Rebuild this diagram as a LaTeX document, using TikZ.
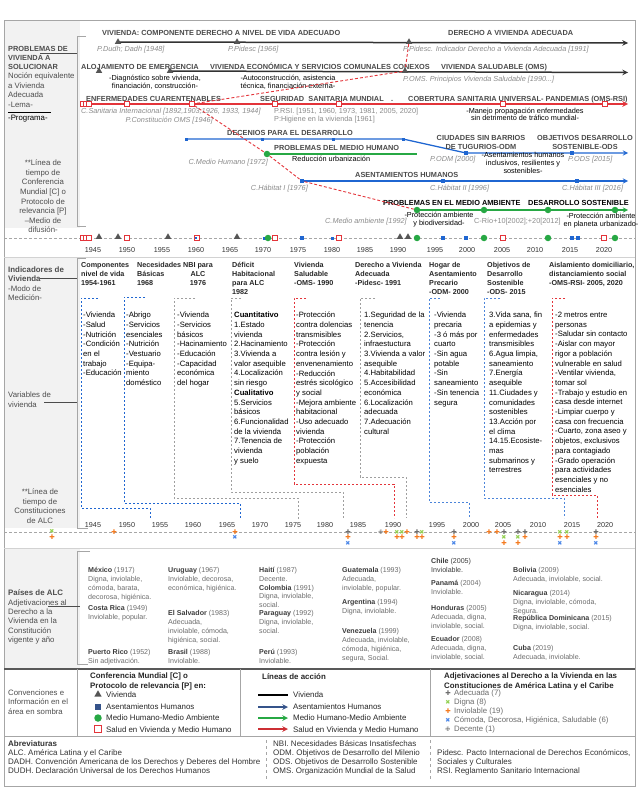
\documentclass[tikz,border=0pt]{standalone}
\usepackage{fontspec}
\setmainfont{Liberation Sans}
\newfontfamily\dejavu{DejaVu Sans}
\usetikzlibrary{shapes.geometric,arrows,positioning,backgrounds}
\definecolor{vivcol}{HTML}{333333}
\definecolor{asecol}{HTML}{1F66D1}
\definecolor{medcol}{HTML}{27A844}
\definecolor{salcol}{HTML}{E3343A}
\definecolor{trigray}{HTML}{555555}
\definecolor{titgray}{HTML}{4A4A4A}
\definecolor{refgray}{HTML}{8A8A8A}
\definecolor{shadegray}{HTML}{F2F2F2}
\definecolor{framegray}{HTML}{A6A6A6}
\definecolor{ctrygray}{HTML}{6B6B6B}
\definecolor{ctryname}{HTML}{3C3C3C}
\definecolor{sidegray}{HTML}{4D4D4D}
\definecolor{legblue}{HTML}{35538A}
\definecolor{adecol}{HTML}{6E6E6E}
\definecolor{dignacol}{HTML}{92D050}
\definecolor{inviocol}{HTML}{F47B20}
\definecolor{comocol}{HTML}{4A86E8}
\newcommand{\pais}[1]{\textcolor{ctryname}{\bfseries #1}}

\begin{document}
\begin{tikzpicture}[x=1pt,y=-1pt,
    tri/.style={regular polygon, regular polygon sides=3, fill=trigray, inner sep=0pt, minimum size=7.5pt},
    bsq/.style={rectangle, fill=asecol, inner sep=0pt, minimum size=4.6pt},
    bdot/.style={rectangle, fill=asecol, inner sep=0pt, minimum size=3pt},
    gcirc/.style={circle, fill=medcol, inner sep=0pt, minimum size=6.5pt},
    rsq/.style={rectangle, draw=salcol, fill=white, line width=0.6pt, inner sep=0pt, minimum size=4.6pt},
    ttl/.style={font=\bfseries\fontsize{7.35}{8}\selectfont, text=titgray, anchor=base west, inner sep=0pt},
    ttlk/.style={ttl, text=black},
    ttlm/.style={font=\bfseries\fontsize{7.35}{8.7}\selectfont, text=titgray, align=center, anchor=north, inner sep=0pt},
    refl/.style={font=\itshape\fontsize{7.3}{8}\selectfont, text=refgray, anchor=base west, inner sep=0pt},
    refr/.style={refl, anchor=base east},
    refn/.style={font=\fontsize{7.3}{8}\selectfont, text=refgray, anchor=base west, inner sep=0pt},
    note/.style={font=\fontsize{7.3}{7.3}\selectfont, align=center, anchor=north, inner sep=0pt},
    notew/.style={note, font=\fontsize{7.3}{8}\selectfont},
    notel/.style={font=\fontsize{7.3}{8}\selectfont, anchor=base west, inner sep=0pt},
    colhead/.style={font=\bfseries\fontsize{7.2}{9}\selectfont, text=black!85, align=left, anchor=north west, inner sep=0pt},
    colbody/.style={font=\fontsize{7.7}{9.7}\selectfont, align=left, anchor=north west, inner sep=0pt},
    sidehead/.style={font=\bfseries\fontsize{7.4}{9}\selectfont, text=sidegray, align=left, anchor=north west, inner sep=0pt},
    sidetxt/.style={font=\fontsize{7.8}{9.6}\selectfont, text=sidegray, align=left, anchor=north west, inner sep=0pt},
    ctry/.style={font=\fontsize{7.1}{8.8}\selectfont, text=ctrygray, align=left, anchor=north west, inner sep=0pt},
    yearlbl/.style={font=\fontsize{7.2}{8}\selectfont, text=black!80, inner sep=0pt},
    legh/.style={font=\bfseries\fontsize{7.9}{10}\selectfont, text=black!85, align=left, anchor=north west, inner sep=0pt},
    legtxt/.style={font=\fontsize{7.9}{9}\selectfont, text=black!85, anchor=base west, inner sep=0pt},
    adjtxt/.style={font=\fontsize{7.8}{9}\selectfont, text=ctrygray, anchor=base west, inner sep=0pt},
    abbr/.style={font=\fontsize{8}{8.8}\selectfont, text=black!80, align=left, anchor=north west, inner sep=0pt},
    mkade/.style={font=\dejavu\fontsize{6.5}{6.5}\selectfont, text=adecol, inner sep=0pt},
    mkdig/.style={font=\dejavu\fontsize{6}{6}\selectfont, text=dignacol, inner sep=0pt},
    mkinv/.style={font=\dejavu\fontsize{6.5}{6.5}\selectfont, text=inviocol, inner sep=0pt},
    mkcom/.style={font=\dejavu\fontsize{6}{6}\selectfont, text=comocol, inner sep=0pt},
    mkdec/.style={font=\dejavu\fontsize{6}{6}\selectfont, text=adecol, inner sep=0pt},
    vline/.style={line width=1.5pt, draw=vivcol},
    rline/.style={line width=1.5pt, draw=salcol},
    bline/.style={line width=1.3pt, draw=asecol},
    gline/.style={line width=1.3pt, draw=medcol},
    rdash/.style={draw=salcol, line width=0.9pt, dash pattern=on 3pt off 2pt},
    axisln/.style={draw=gray!70, line width=0.7pt, dash pattern=on 3pt off 2pt},
    brk/.style={draw=framegray, line width=0.8pt},
    lead/.style={draw=black!70, line width=0.7pt},
    dbrk/.style={line width=0.9pt, dash pattern=on 2.4pt off 1.6pt},
    arrow/.style={-stealth}
]
    \useasboundingbox (0,0) rectangle (640,792);

    % Sombreado y marco
    \begin{pgfonlayer}{background}
        \fill[shadegray] (4,20) rectangle (80,228);
        \fill[shadegray] (4,257) rectangle (80,528);
        \fill[shadegray] (4,548) rectangle (80,668);
    \end{pgfonlayer}
    \draw[framegray, line width=0.8pt] (4,20) rectangle (635,786);
    \draw[gray!35, line width=0.6pt] (4,257) -- (635,257);
    \draw[gray!35, line width=0.6pt] (4,548) -- (635,548);
    \draw[black!65, line width=1.8pt] (4,669) -- (635,669);
    \draw[framegray, line width=0.6pt] (4,736) -- (635,736);
    \draw[framegray, line width=0.6pt] (77,669) -- (77,736);
    \draw[framegray, line width=0.6pt] (240,669) -- (240,736);
    \draw[framegray, line width=0.6pt] (430,669) -- (430,736);
    \draw[framegray, line width=0.6pt, dashed] (266,740) -- (266,780);
    \draw[framegray, line width=0.6pt, dashed] (430,740) -- (430,780);

    % Llaves de la columna izquierda
    \draw[brk] (86,36) -- (77,36) -- (77,226) -- (86,226);
    \draw[brk] (86,258) -- (77,258) -- (77,528) -- (88,528);
    \draw[brk] (90,551) -- (77,551) -- (77,664) -- (88,664);

    % Columna izquierda
    \node[sidehead] (lProb) at (8,46) {PROBLEMAS DE\\VIVIENDA A\\SOLUCIONAR};
    \node[sidetxt] (lNoc) at (8,72.5) {Noción equivalente\\a Vivienda\\Adecuada\\-Lema-};
    \coordinate (kLemaA) at (8,112);
    \coordinate (kLemaB) at (51,112);
    \draw[black, line width=0.7pt] (kLemaA) -- (kLemaB);
    \node[sidetxt, text=black] (lProg) at (8,115) {-Programa-};
    \coordinate (kProbA) at (40,53);
    \coordinate (kProbB) at (77,53);
    \draw[lead] (kProbA) -- (kProbB);
    \node[sidetxt, align=center, anchor=north] (lConf) at (43,159.8) {**Línea de\\tiempo de\\Conferencia\\Mundial [C] o\\Protocolo de\\relevancia [P]\\–Medio de\\difusión-};

    \node[sidehead, font=\bfseries\fontsize{7.9}{9.5}\selectfont] (lInd) at (8,266.5) {Indicadores de\\Vivienda};
    \node[sidetxt] (lMod) at (8,285.3) {-Modo de\\Medición-};
    \coordinate (kIndA) at (40,278.5);
    \coordinate (kIndB) at (77,278.5);
    \draw[lead] (kIndA) -- (kIndB);
    \node[sidetxt] (lVar) at (8,391.8) {Variables de\\vivienda};
    \coordinate (kVarA) at (44,402);
    \coordinate (kVarB) at (77,402);
    \draw[lead] (kVarA) -- (kVarB);
    \node[sidetxt, align=center, anchor=north] (lConst) at (40,488.8) {**Línea de\\tiempo de\\Constituciones\\de ALC};

    \node[sidehead, font=\bfseries\fontsize{7.9}{9.5}\selectfont] (lPai) at (8,589.8) {Países de ALC};
    \node[sidetxt, font=\fontsize{7.8}{9.3}\selectfont] (lAdj) at (8,599.3) {Adjetivaciones al\\Derecho a la\\Vivienda en la\\Constitución\\vigente y año};
    \coordinate (kPaiA) at (48,606.5);
    \coordinate (kPaiB) at (80,606.5);
    \draw[lead] (kPaiA) -- (kPaiB);

    % Fila Vivienda
    \node[ttl] (tituViv) at (102,35.5) {VIVIENDA: COMPONENTE DERECHO A NIVEL DE VIDA ADECUADO};
    \node[ttl] (tituDer) at (448,35.5) {DERECHO A VIVIENDA ADECUADA};
    \node[tri] (tDudh) at (118,42) {};
    \node[tri] (tPidesc) at (237,42) {};
    \node[tri] (tPid91) at (409,42) {};
    \coordinate (aViv) at (628,43);
    \node[refl] (rDudh) at (97,52) {P.Dudh; Dadh [1948]};
    \node[refl] (rPid) at (228,52) {P.Pidesc [1966]};
    \node[refl] (rPid91) at (403,52) {P.Pidesc. Indicador Derecho a Vivienda Adecuada [1991]};

    \node[ttl] (tituAloj) at (81,69.5) {ALOJAMIENTO DE EMERGENCIA};
    \node[ttl] (tituEcon) at (210,69.5) {VIVIENDA ECONÓMICA Y SERVICIOS COMUNALES CONEXOS};
    \node[ttl] (tituSal) at (441,69.5) {VIVIENDA SALUDABLE (OMS)};
    \node[tri] (tAloj) at (99,71) {};
    \node[tri] (tEcon) at (170,71) {};
    \node[tri] (tOms90) at (405,71) {};
    \coordinate (aSal) at (628,72.5);
    \node[note] (nDiag) at (155,75.3) {-Diagnóstico sobre vivienda,\\financiación, construcción-};
    \node[note] (nAuto) at (288,75.3) {-Autoconstrucción, asistencia\\técnica, financiación externa-};
    \node[refl] (rOms) at (403,81.5) {P.OMS. Principios Vivienda Saludable [1990...]};

    % Fila Salud
    \coordinate (sIni) at (81,104);
    \coordinate (aSan) at (628,104);
    \node[ttl] (tituEnf) at (86,101.5) {ENFERMEDADES CUARENTENABLES};
    \node[ttl] (tituSeg) at (260,101.5) {SEGURIDAD\ \ SANITARIA MUNDIAL};
    \node[ttl] (tituPto) at (391,101.5) {.};
    \node[ttl] (tituCob) at (408,101.5) {COBERTURA SANITARIA UNIVERSAL- PANDEMIAS (OMS-RSI)};
    \node[refl] (rCSan) at (81,113.5) {C.Sanitaria Internacional [1892,1903,1926, 1933, 1944]};
    \node[refr] (rCons) at (213,122.5) {P.Constitución OMS [1946]};
    \node[refn] (rRsi) at (274,113.5) {P.RSI. [1951, 1960, 1973, 1981, 2005, 2020]};
    \node[refn] (rHig) at (274,121.5) {P:Higiene en la vivienda [1961]};
    \node[note] (nMan) at (525,108) {-Manejo propagación enfermedades\\sin detrimento de tráfico mundial-};

    % Fila Decenios
    \node[ttl] (tituDec) at (227,135.5) {DECENIOS PARA EL DESARROLLO};
    \node[ttlm] (tituCiu) at (481,135.2) {CIUDADES SIN BARRIOS\\DE TUGURIOS-ODM};
    \node[ttlm] (tituODS) at (585,135.2) {OBJETIVOS DESARROLLO\\SOSTENIBLE-ODS};
    \node[bdot] (dec1) at (186,139) {};
    \node[bdot] (dec2) at (262,139) {};
    \node[bdot] (dec3) at (333,139) {};
    \node[bdot] (dec4) at (403,139) {};
    \node[bsq] (sODM) at (466,153) {};
    \node[bsq] (sODS) at (572,153) {};
    \coordinate (aDec) at (628,153);
    \node[refl] (rODM) at (430,161.5) {P.ODM [2000]};
    \node[refl] (rODS) at (568,161.5) {P.ODS [2015]};
    \node[notew] (nAse) at (523,152.5) {-Asentamientos humanos\\inclusivos, resilientes y\\sostenibles-};

    % Fila Medio Humano
    \node[ttl] (tituPMH) at (274,150.5) {PROBLEMAS DEL MEDIO HUMANO};
    \node[gcirc] (cMH) at (267,154) {};
    \coordinate (eMH) at (417,154);
    \node[notel] (nRed) at (292,161.5) {Reducción urbanización};
    \node[refr] (rCMH) at (268,164.5) {C.Medio Humano [1972]};

    % Fila Asentamientos
    \node[ttl] (tituAse) at (355,177.5) {ASENTAMIENTOS HUMANOS};
    \node[bsq] (sHab1) at (302,181) {};
    \node[bsq] (sHab2) at (443,181) {};
    \node[bsq] (sHab3) at (577,181) {};
    \coordinate (aAse) at (628,181);
    \node[refr] (rHab1) at (308,190.5) {C.Hábitat I [1976]};
    \node[refl] (rHab2) at (430,190.5) {C.Hábitat II [1996]};
    \node[refl] (rHab3) at (562,190.5) {C.Hábitat III [2016]};

    % Fila Medio Ambiente
    \node[ttlk] (tituPMA) at (383,205.5) {PROBLEMAS EN EL MEDIO AMBIENTE};
    \node[ttlk] (tituDS) at (528,205.5) {DESARROLLO SOSTENIBLE};
    \node[gcirc] (cMA92) at (417,210) {};
    \node[gcirc] (cRio02) at (484,210) {};
    \node[gcirc] (cRio12) at (548,210) {};
    \node[gcirc] (cMA22) at (615,210) {};
    \coordinate (aAmb) at (628,210);
    \node[refl] (rCMA) at (325,223) {C.Medio ambiente [1992]};
    \node[notew] (nProt) at (439,212.3) {-Protección ambiente\\y biodiversidad-};
    \node[refn] (rRio) at (474,223) {C-Río+10[2002];+20[2012]};
    \node[notew] (nPlan) at (601,213.3) {-Protección ambiente\\en planeta urbanizado-};

    % Lineas de tiempo (debajo de los marcadores)
    \begin{scope}[on background layer]
        \draw[vline, arrow] (tDudh.center) -- (aViv);
        \draw[vline, arrow] (tEcon.center) -- (aSal);
        \draw[rline, arrow] (sIni) -- (aSan);
        \draw[bline, arrow] (dec1.center) -- (dec2.center) -- (dec3.center) -- (dec4.center) -- (sODM.center) -- (sODS.center) -- (aDec);
        \draw[gline] (cMH.center) -- (eMH);
        \draw[bline, arrow] (sHab1.center) -- (aAse);
        \draw[gline, arrow] (cMA92.center) -- (aAmb);
    \end{scope}

    % Cuadros rojos sobre la linea Salud
    \node[rsq] (rSan1) at (83,104) {};
    \node[rsq] (rSan2) at (86,104) {};
    \node[rsq] (rSan3) at (89,104) {};
    \node[rsq] (rSan4) at (127,104) {};
    \node[rsq] (rSanPC) at (192,104) {};
    \node[rsq] (rSan6) at (275,104) {};
    \node[rsq] (rSan7) at (339,104) {};
    \node[rsq] (rSan8) at (503,104) {};
    \node[rsq] (rSan9) at (605,104) {};

    % Conexion discontinua
    \draw[rdash] (tPid91) -- (tOms90) -- (rSanPC) -- (cMH) -- (sHab1) -- (cMA92);

    % Eje de conferencias
    \coordinate (axA1) at (4,238);
    \coordinate (axA2) at (635,238);
    \draw[axisln] (axA1) -- (axA2);
    \node[rsq] (x1) at (83,238) {};
    \node[rsq] (x2) at (86,238) {};
    \node[rsq] (x3) at (89,238) {};
    \node[tri] (x4) at (99,237) {};
    \node[tri] (x5) at (118,237) {};
    \node[rsq] (x6) at (127,238) {};
    \node[tri] (x7) at (168,237) {};
    \node[rsq] (x8) at (197,238) {};
    \node[bdot, minimum size=2.4pt] (x9) at (196,238) {};
    \node[tri] (x10) at (237,237) {};
    \node[bdot] (x11) at (264,238) {};
    \node[gcirc] (x12) at (268,238) {};
    \node[rsq] (x13) at (275,238) {};
    \node[bsq] (x14) at (302,238) {};
    \node[bdot] (x15) at (332,238) {};
    \node[rsq] (x16) at (339,238) {};
    \node[tri] (x17) at (400,237) {};
    \node[tri] (x18) at (408,237) {};
    \node[gcirc] (x19) at (417,238) {};
    \node[bsq] (x20) at (443,238) {};
    \node[bsq] (x21) at (466,238) {};
    \node[gcirc] (x22) at (484,238) {};
    \node[rsq] (x23) at (503,238) {};
    \node[gcirc] (x24) at (548,238) {};
    \node[bsq] (x25) at (572,238) {};
    \node[bsq] (x26) at (578,238) {};
    \node[rsq] (x27) at (604,238) {};
    \node[gcirc] (x28) at (615,238) {};
    \foreach \yr/\xx in {1945/93,1950/127,1955/162,1960/196,1965/230,1970/263,1975/298,1980/332,1985/365,1990/398,1995/435,2000/467,2005/502,2010/535,2015/570,2020/604}
        \node[yearlbl] (yA\yr) at (\xx,250) {\yr};

    % Indicadores de vivienda
    \node[colhead] (hComp) at (81,262.4) {Componentes\\nivel de vida\\1954-1961};
    \node[colhead] (hNec) at (137,262.4) {Necesidades\\Básicas\\1968};
    \node[colhead, align=center, anchor=north] (hNbi) at (198,262.4) {NBI para\\ALC\\1976};
    \node[colhead] (hDef) at (232,262.4) {Déficit\\Habitacional\\para ALC\\1982};
    \node[colhead] (hSal) at (294,262.4) {Vivienda\\Saludable\\-OMS- 1990};
    \node[colhead] (hDer) at (355,262.4) {Derecho a Vivienda\\Adecuada\\-Pidesc- 1991};
    \node[colhead] (hHog) at (429,262.4) {Hogar de\\Asentamiento\\Precario\\-ODM- 2000};
    \node[colhead] (hObj) at (487,262.4) {Objetivos de\\Desarrollo\\Sostenible\\-ODS- 2015};
    \node[colhead] (hAis) at (549,262.4) {Aislamiento domiciliario,\\distanciamiento social\\-OMS-RSI- 2005, 2020};

    \node[colbody] (vComp) at (83,312) {-Vivienda\\-Salud\\-Nutrición\\-Condición\\en el\\trabajo\\-Educación};
    \node[colbody] (vNec) at (126,312) {-Abrigo\\-Servicios\\esenciales\\-Nutrición\\-Vestuario\\-Equipa-\\miento\\doméstico};
    \node[colbody] (vNbi) at (177,312) {-Vivienda\\-Servicios\\básicos\\-Hacinamiento\\-Educación\\-Capacidad\\económica\\del hogar};
    \node[colbody] (vDef) at (234,312) {\textbf{Cuantitativo}\\1.Estado\\vivienda\\2.Hacinamiento\\3.Vivienda a\\valor asequible\\4.Localización\\sin riesgo\\\textbf{Cualitativo}\\5.Servicios\\básicos\\6.Funcionalidad\\de la vivienda\\7.Tenencia de\\vivienda\\y suelo};
    \node[colbody] (vSal) at (296,312) {-Protección\\contra dolencias\\transmisibles\\-Protección\\contra lesión y\\envenenamiento\\-Reducción\\estrés sicológico\\y social\\-Mejora ambiente\\habitacional\\-Uso adecuado\\vivienda\\-Protección\\población\\expuesta};
    \node[colbody] (vDer) at (364,312) {1.Seguridad de la\\tenencia\\2.Servicios,\\infraestuctura\\3.Vivienda a valor\\asequible\\4.Habitabilidad\\5.Accesibilidad\\económica\\6.Localización\\adecuada\\7.Adecuación\\cultural};
    \node[colbody] (vHog) at (434,312) {-Vivienda\\precaria\\-3 ó más por\\cuarto\\-Sin agua\\potable\\-Sin\\saneamiento\\-Sin tenencia\\segura};
    \node[colbody] (vObj) at (489,312) {3.Vida sana, fin\\a epidemias y\\enfermedades\\transmisibles\\6.Agua limpia,\\saneamiento\\7.Energía\\asequible\\11.Ciudades y\\comunidades\\sostenibles\\13.Acción por\\el clima\\14.15.Ecosiste-\\mas\\submarinos y\\terrestres};
    \node[colbody] (vAis) at (555,312) {-2 metros entre\\personas\\-Saludar sin contacto\\-Aislar con mayor\\rigor a población\\vulnerable en salud\\-Ventilar vivienda,\\tomar sol\\-Trabajo y estudio en\\casa desde internet\\-Limpiar cuerpo y\\casa con frecuencia\\-Cuarto, zona aseo y\\objetos, exclusivos\\para contagiado\\-Grado operación\\para actividades\\esenciales y no\\esenciales};

    % Llaves discontinuas hacia el eje de constituciones
    \draw[dbrk, asecol] (98,298) -- (81,298) -- (81,508) -- (150,508) -- (150,518);
    \draw[dbrk, asecol] (145,297) -- (124,297) -- (124,503) -- (240,503) -- (240,518);
    \draw[dbrk, gray!75] (195,298) -- (174,298) -- (174,498) -- (298,498) -- (298,520);
    \draw[dbrk, gray!75] (241,298) -- (231,298) -- (231,492) -- (343,492) -- (343,518);
    \draw[dbrk, salcol] (306,298) -- (294,298) -- (294,484) -- (394,484) -- (394,518);
    \draw[dbrk, gray!75] (375,298) -- (360,298) -- (360,477) -- (406,477) -- (406,518);
    \draw[dbrk, asecol!80] (440,298) -- (429,298) -- (429,502) -- (469,502) -- (469,518);
    \draw[dbrk, asecol!80] (500,298) -- (484,298) -- (484,498) -- (564,498) -- (564,518);
    \draw[dbrk, salcol] (565,298) -- (552,298) -- (552,495) -- (597,495) -- (597,518);

    % Eje de constituciones
    \foreach \yr/\xx in {1945/93,1950/127,1955/160,1960/193,1965/227,1970/260,1975/293,1980/325,1985/358,1990/393,1995/437,2000/471,2005/503,2010/538,2015/572,2020/605}
        \node[yearlbl] (yB\yr) at (\xx,525) {\yr};
    \coordinate (axB1) at (4,532);
    \coordinate (axB2) at (635,532);
    \draw[axisln] (axB1) -- (axB2);
    \foreach \xx/\yy [count=\i] in {348/532,417/532,454/532,504/532,518/532,525/532,596/532}
        \node[mkade] (ade\i) at (\xx,\yy) {✚};
    \foreach \xx/\yy [count=\i] in {52/531,397/532,402/532,422/532,504/537.5,518/537.5,560/532,567/532}
        \node[mkdig] (dig\i) at (\xx,\yy) {✖};
    \foreach \xx/\yy [count=\i] in {52/537,114/532,235/532,348/537.5,386/532,397/537.5,402/537.5,407/532,417/537.5,422/537.5,454/537.5,489/532,497/532,504/543,518/543,525/537.5,560/537.5,567/537.5,596/537.5}
        \node[mkinv] (inv\i) at (\xx,\yy) {✚};
    \foreach \xx/\yy [count=\i] in {235/537.5,348/543,454/543,560/543,596/543}
        \node[mkcom] (com\i) at (\xx,\yy) {✖};
    \node[mkdec] (dec1m) at (381,532) {✙};

    % Paises de ALC
    \node[ctry] (pMex) at (88,567.2) {\pais{México} (1917)\\Digna, inviolable,\\cómoda, barata,\\decorosa, higiénica.};
    \node[ctry] (pCri) at (88,605.2) {\pais{Costa Rica} (1949)\\Inviolable, popular.};
    \node[ctry] (pPri) at (88,649) {\pais{Puerto Rico} (1952)\\Sin adjetivación.};
    \node[ctry] (pUru) at (168,567.2) {\pais{Uruguay} (1967)\\Inviolable, decorosa,\\económica, higiénica.};
    \node[ctry] (pSal) at (168,610.3) {\pais{El Salvador} (1983)\\Adecuada,\\inviolable, cómoda,\\higiénica, social.};
    \node[ctry] (pBra) at (168,649) {\pais{Brasil} (1988)\\Inviolable.};
    \node[ctry] (pHai) at (259,567.2) {\pais{Haití} (1987)\\Decente.};
    \node[ctry] (pCol) at (259,584.8) {\pais{Colombia} (1991)\\Digna, inviolable,\\social.};
    \node[ctry] (pPar) at (259,610.3) {\pais{Paraguay} (1992)\\Digna, inviolable,\\social.};
    \node[ctry] (pPer) at (259,649) {\pais{Perú} (1993)\\Inviolable.};
    \node[ctry] (pGua) at (342,567.2) {\pais{Guatemala} (1993)\\Adecuada,\\inviolable, popular.};
    \node[ctry] (pArg) at (342,599.2) {\pais{Argentina} (1994)\\Digna, inviolable.};
    \node[ctry] (pVen) at (342,628.5) {\pais{Venezuela} (1999)\\Adecuada, inviolable,\\cómoda, higiénica,\\segura, Social.};
    \node[ctry, text=ctryname] (pChi) at (431,558.2) {\pais{Chile} (2005)\\Inviolable.};
    \node[ctry] (pPan) at (431,580.2) {\pais{Panamá} (2004)\\Inviolable.};
    \node[ctry] (pHon) at (431,605.2) {\pais{Honduras} (2005)\\Adecuada, digna,\\inviolable, social.};
    \node[ctry] (pEcu) at (431,636.5) {\pais{Ecuador} (2008)\\Adecuada, digna,\\inviolable, social.};
    \node[ctry] (pBol) at (513,567.2) {\pais{Bolivia} (2009)\\Adecuada, inviolable, social.};
    \node[ctry] (pNic) at (513,590.2) {\pais{Nicaragua} (2014)\\Digna, inviolable, cómoda,\\Segura.};
    \node[ctry] (pDom) at (513,615.2) {\pais{República Dominicana} (2015)\\Digna, inviolable, social.};
    \node[ctry] (pCub) at (513,645) {\pais{Cuba} (2019)\\Adecuada, inviolable.};

    % Convenciones
    \node[sidetxt, font=\fontsize{7.8}{9.3}\selectfont] (lConv) at (8,689.6) {Convenciones e\\Información en el\\área en sombra};
    \node[legh] (hConf) at (90,673) {Conferencia Mundial [C] o\\Protocolo de relevancia [P] en:};
    \node[tri, minimum size=8.5pt] (gTri) at (98,694.5) {};
    \node[rectangle, fill=legblue, inner sep=0pt, minimum size=6pt] (gSq) at (98,707) {};
    \node[gcirc, minimum size=7.5pt] (gCirc) at (98,718) {};
    \node[rsq, minimum size=7pt, line width=0.8pt] (gRsq) at (98,729) {};
    \node[legtxt] (gTriT) at (106,697.8) {Vivienda};
    \node[legtxt] (gSqT) at (106,709.3) {Asentamientos Humanos};
    \node[legtxt] (gCircT) at (106,720.8) {Medio Humano-Medio Ambiente};
    \node[legtxt] (gRsqT) at (106,732) {Salud en Vivienda y Medio Humano};

    \node[legh] (hLin) at (262,673) {Líneas de acción};
    \coordinate (lv1) at (258,695);  \coordinate (lv2) at (288,695);
    \coordinate (lb1) at (258,707);  \coordinate (lb2) at (288,707);
    \coordinate (lg1) at (258,718);  \coordinate (lg2) at (288,718);
    \coordinate (lr1) at (258,729);  \coordinate (lr2) at (288,729);
    \draw[line width=1.5pt, black] (lv1) -- (lv2);
    \draw[line width=1.5pt, legblue, arrow] (lb1) -- (lb2);
    \draw[line width=1.5pt, medcol, arrow] (lg1) -- (lg2);
    \draw[line width=1.5pt, salcol!90!black, arrow] (lr1) -- (lr2);
    \node[legtxt] (lvT) at (293,697.8) {Vivienda};
    \node[legtxt] (lbT) at (293,709.3) {Asentamientos Humanos};
    \node[legtxt] (lgT) at (293,720.8) {Medio Humano-Medio Ambiente};
    \node[legtxt] (lrT) at (293,732) {Salud en Vivienda y Medio Humano};

    \node[legh] (hAdj) at (444,673) {Adjetivaciones al Derecho a la Vivienda en las\\Constituciones de América Latina y el Caribe};
    \node[mkade] (gAde) at (448,693) {✚};
    \node[mkdig] (gDig) at (448,702) {✖};
    \node[mkinv] (gInv) at (448,711) {✚};
    \node[mkcom] (gCom) at (448,720) {✖};
    \node[mkdec] (gDec) at (448,729) {✙};
    \node[adjtxt] (gAdeT) at (454,695.5) {Adecuada (7)};
    \node[adjtxt] (gDigT) at (454,704.5) {Digna (8)};
    \node[adjtxt] (gInvT) at (454,713.5) {Inviolable (19)};
    \node[adjtxt] (gComT) at (454,722.5) {Cómoda, Decorosa, Higiénica, Saludable (6)};
    \node[adjtxt] (gDecT) at (454,731.5) {Decente (1)};

    % Abreviaturas
    \node[abbr] (abIzq) at (8,740.8) {\textbf{Abreviaturas}\\ALC. América Latina y el Caribe\\DADH. Convención Americana de los Derechos y Deberes del Hombre\\DUDH. Declaración Universal de los Derechos Humanos};
    \node[abbr] (abMed) at (273,740.8) {NBI. Necesidades Básicas Insatisfechas\\ODM. Objetivos de Desarrollo del Milenio\\ODS. Objetivos de Desarrollo Sostenible\\OMS. Organización Mundial de la Salud};
    \node[abbr] (abDer) at (437,749.6) {Pidesc. Pacto Internacional de Derechos Económicos,\\Sociales y Culturales\\RSI. Reglamento Sanitario Internacional};
\end{tikzpicture}
\end{document}
